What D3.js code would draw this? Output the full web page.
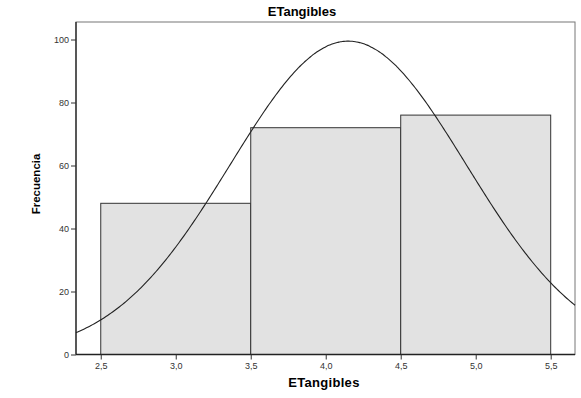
<!DOCTYPE html>
<html>
<head>
<meta charset="utf-8">
<script src="https://cdn.jsdelivr.net/npm/d3@7/dist/d3.min.js"></script>
<style>
  html, body { margin: 0; padding: 0; background: #fff; }
  svg { display: block; font-family: "Liberation Sans", Arial, sans-serif; }
</style>
</head>
<body>
<svg id="chart" width="581" height="398"></svg>
<script>
// Histogram bins (lower edge, upper edge) and counts
const binStarts = [2.5, 3.5, 4.5];
const binEnds = [3.5, 4.5, 5.5];
const counts = [48, 72, 76];

// Normal curve parameters
const curveMean = 4.15;
const curveSD = 0.786;
const curveN = 196;

// Axis ticks
const xTicks = [2.5, 3.0, 3.5, 4.0, 4.5, 5.0, 5.5];
const yTicks = [0, 20, 40, 60, 80, 100];

const svg = d3.select("#chart");
const frame = { left: 76, top: 22, right: 575, bottom: 354.5 };

const x = d3.scaleLinear().domain([2.335, 5.662]).range([frame.left, frame.right]);
const y = d3.scaleLinear().domain([0, 100]).range([354.5, 39.5]);

// Outer frame
svg.append("rect")
  .attr("x", frame.left).attr("y", frame.top)
  .attr("width", frame.right - frame.left).attr("height", frame.bottom - frame.top)
  .attr("fill", "none").attr("stroke", "#777").attr("stroke-width", 1);

// Bars
const bins = counts.map((c, i) => ({ x0: binStarts[i], x1: binEnds[i], n: c }));
svg.append("g").selectAll("rect").data(bins).join("rect")
  .attr("x", d => x(d.x0))
  .attr("y", d => y(d.n))
  .attr("width", d => x(d.x1) - x(d.x0))
  .attr("height", d => y(0) - y(d.n))
  .attr("fill", "#e2e2e2")
  .attr("stroke", "#333")
  .attr("stroke-width", 1);

// Normal curve scaled to counts
const binWidth = binEnds[0] - binStarts[0];
const dens = v => curveN * binWidth / (curveSD * Math.sqrt(2 * Math.PI)) *
  Math.exp(-Math.pow(v - curveMean, 2) / (2 * curveSD * curveSD));
const pts = d3.range(0, 301).map(i => {
  const v = x.domain()[0] + (x.domain()[1] - x.domain()[0]) * i / 300;
  return [v, dens(v)];
});
svg.append("path")
  .datum(pts)
  .attr("fill", "none")
  .attr("stroke", "#222")
  .attr("stroke-width", 1.1)
  .attr("d", d3.line().x(d => x(d[0])).y(d => y(d[1])).curve(d3.curveBasis));

// Axes
const fmt = d => d3.format(".1f")(d).replace(".", ",");
const xAxis = svg.append("g")
  .attr("transform", `translate(0,${frame.bottom})`)
  .call(d3.axisBottom(x).tickValues(xTicks).tickFormat(fmt).tickSize(5).tickPadding(3));
const yAxis = svg.append("g")
  .attr("transform", `translate(${frame.left},0)`)
  .call(d3.axisLeft(y).tickValues(yTicks).tickFormat(d3.format("d")).tickSize(5).tickPadding(2));

[xAxis, yAxis].forEach(g => {
  g.select(".domain").attr("stroke", "#222").attr("stroke-width", 1.3);
  g.selectAll(".tick line").attr("stroke", "#333");
  g.selectAll(".tick text").attr("fill", "#333").style("font-size", "9px")
    .style("font-family", "'Liberation Sans', Arial, sans-serif");
});
xAxis.select(".domain").attr("d", `M${frame.left},0H${frame.right}`);
yAxis.select(".domain").attr("d", `M0,${frame.top}V${frame.bottom}`);

// Titles
svg.append("text")
  .attr("x", 302).attr("y", 16)
  .attr("text-anchor", "middle")
  .style("font-size", "13px").style("font-weight", "bold")
  .text("ETangibles");

svg.append("text")
  .attr("x", 324).attr("y", 387)
  .attr("text-anchor", "middle")
  .style("font-size", "13px").style("font-weight", "bold")
  .style("letter-spacing", "0.3px")
  .text("ETangibles");

svg.append("text")
  .attr("transform", "translate(40,184) rotate(-90)")
  .attr("text-anchor", "middle")
  .style("font-size", "11.5px").style("font-weight", "bold")
  .text("Frecuencia");
</script>
</body>
</html>
